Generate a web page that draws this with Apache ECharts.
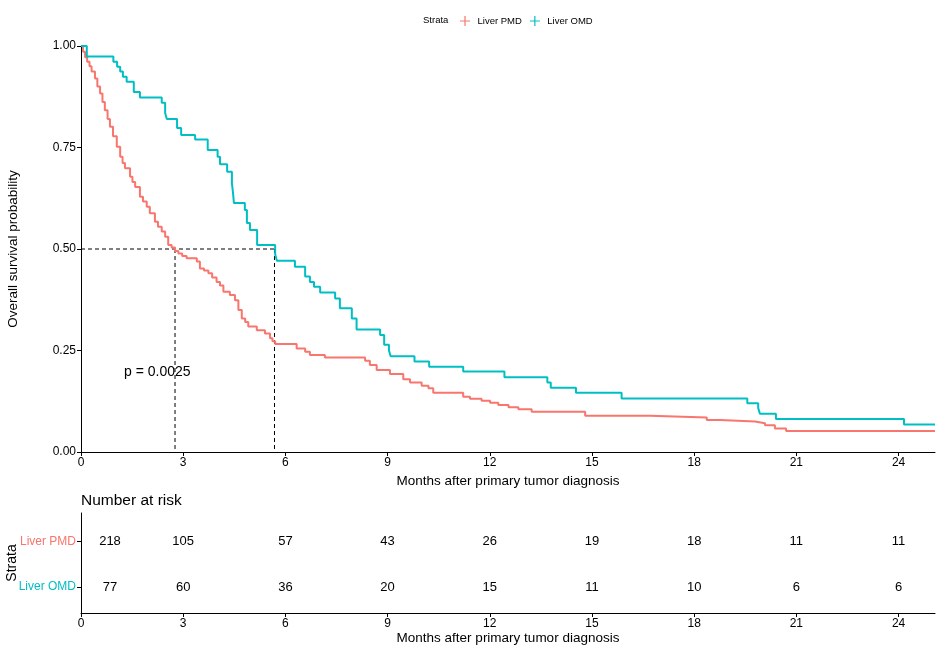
<!DOCTYPE html>
<html>
<head>
<meta charset="utf-8">
<script src="https://cdn.jsdelivr.net/npm/echarts@6/dist/echarts.min.js"></script>
<style>
  html, body { margin: 0; padding: 0; background: #fff; }
  #chart { width: 941px; height: 652px; }
</style>
</head>
<body>
<div id="chart"></div>
<script>
// =====================================================
// DATA
// =====================================================

const pmdTime = [0, 0.06, 0.12, 0.18, 0.25, 0.31, 0.41, 0.48, 0.56, 0.63, 0.70, 0.78, 0.85, 0.94,
    1.05, 1.15, 1.22, 1.29, 1.44, 1.51, 1.59, 1.73, 1.82, 1.93, 2.02, 2.17, 2.26, 2.37, 2.47,
    2.56, 2.66, 2.76, 2.86, 2.97, 3.10, 3.40, 3.49, 3.61, 3.74, 3.85, 3.98, 4.08, 4.18, 4.37,
    4.52, 4.62, 4.72, 4.82, 4.91, 5.16, 5.40, 5.55, 5.62, 5.70, 6.33, 6.58, 6.72, 7.16, 8.34,
    8.48, 8.68, 9.07, 9.46, 9.66, 10.00, 10.20, 10.34, 11.22, 11.42, 11.76, 12.01, 12.25,
    12.55, 12.84, 13.23, 14.80, 16.71, 18.37, 18.76, 19.79, 20.08, 20.37, 20.70, 25.07];
const pmdSurv = [1.0, 0.986, 0.972, 0.961, 0.950, 0.937, 0.920, 0.900, 0.883, 0.862, 0.842, 0.820,
    0.801, 0.778, 0.752, 0.727, 0.712, 0.699, 0.678, 0.665, 0.653, 0.629, 0.617, 0.604, 0.588,
    0.567, 0.555, 0.543, 0.530, 0.510, 0.504, 0.495, 0.489, 0.483, 0.477, 0.469, 0.452, 0.447,
    0.440, 0.430, 0.419, 0.410, 0.395, 0.387, 0.374, 0.350, 0.329, 0.320, 0.309, 0.300, 0.292,
    0.280, 0.273, 0.266, 0.255, 0.247, 0.239, 0.233, 0.225, 0.214, 0.202, 0.192, 0.179, 0.171,
    0.163, 0.157, 0.146, 0.136, 0.131, 0.126, 0.121, 0.116, 0.110, 0.105, 0.099, 0.089, 0.085,
    0.079, 0.075, 0.071, 0.066, 0.058, 0.052, 0.052];

const omdTime = [0, 0.17, 0.95, 1.06, 1.15, 1.23, 1.34, 1.55, 1.73, 2.37, 2.47, 2.52, 2.82, 2.94,
    3.35, 3.72, 4.01, 4.08, 4.29, 4.43, 4.46, 4.49, 4.81, 4.87, 4.96, 5.17, 5.70, 5.75, 6.28,
    6.58, 6.72, 6.84, 7.02, 7.46, 7.60, 7.95, 8.09, 8.78, 8.90, 9.04, 9.09, 9.79, 10.22, 11.22,
    12.43, 13.69, 13.79, 14.53, 15.87, 19.56, 19.88, 19.93, 20.40, 24.16, 25.07];
const omdSurv = [1.0, 0.974, 0.961, 0.949, 0.937, 0.924, 0.912, 0.887, 0.873, 0.860, 0.835, 0.820,
    0.798, 0.781, 0.770, 0.744, 0.727, 0.709, 0.690, 0.662, 0.640, 0.613, 0.596, 0.564, 0.547,
    0.510, 0.487, 0.471, 0.456, 0.432, 0.419, 0.407, 0.393, 0.378, 0.354, 0.329, 0.302, 0.288,
    0.264, 0.250, 0.236, 0.223, 0.210, 0.198, 0.184, 0.171, 0.158, 0.146, 0.132, 0.120, 0.108,
    0.094, 0.081, 0.068, 0.068];

const medianPMD = 2.76;
const medianOMD = 5.68;

const riskTimes = [0, 3, 6, 9, 12, 15, 18, 21, 24];
const pmdRisk = [218, 105, 57, 43, 26, 19, 18, 11, 11];
const omdRisk = [77, 60, 36, 20, 15, 11, 10, 6, 6];

const strata = ['Liver PMD', 'Liver OMD'];
const colors = ['#F8766D', '#00BFC4'];
const pValue = 'p = 0.0025';

// =====================================================
// HELPERS
// =====================================================

const zip = (a, b) => a.map((v, i) => [v, b[i]]);
const font = 'Liberation Sans, Arial, sans-serif';
const plusIcon = 'path://M0,4.4H10V5.6H0Z M4.4,0H5.6V10H4.4Z';

function x_axis(gridIndex) {
    return {
        type: 'value', gridIndex: gridIndex,
        min: 0, max: 25.07, interval: 3,
        name: 'Months after primary tumor diagnosis',
        nameLocation: 'middle', nameGap: 17,
        nameTextStyle: { fontFamily: font, fontSize: 13.5, color: '#000' },
        axisLine: { show: true, onZero: false, lineStyle: { color: '#000', width: 1 } },
        axisTick: { show: true, length: 4, lineStyle: { color: '#000' } },
        axisLabel: { fontFamily: font, fontSize: 12, color: '#000', margin: 5,
            showMaxLabel: false, formatter: v => v },
        splitLine: { show: false }
    };
}

const chart = echarts.init(document.getElementById('chart'));

chart.setOption({
    animation: false,
    textStyle: { fontFamily: font },
    grid: [
        { left: 81, top: 46, width: 854, height: 406, outerBoundsMode: 'none', containLabel: false },
        { left: 81, top: 513, width: 854, height: 100, outerBoundsMode: 'none', containLabel: false }
    ],
    legend: {
        left: 455, top: 11,
        itemWidth: 15, itemHeight: 10, itemGap: 8,
        icon: plusIcon,
        textStyle: { fontFamily: font, fontSize: 9.5, color: '#000' },
        data: strata
    },
    graphic: [
        { type: 'text', left: 423, top: 15,
          style: { text: 'Strata', font: '9.5px ' + font, fill: '#000' } },
        { type: 'text', left: 124, top: 365,
          style: { text: pValue, font: '14px ' + font, fill: '#000' } },
        { type: 'text', left: 81, top: 493,
          style: { text: 'Number at risk', font: '15.5px ' + font, fill: '#000' } }
    ],
    xAxis: [x_axis(0), x_axis(1)],
    yAxis: [
        {
            type: 'value', gridIndex: 0, min: 0, max: 1, interval: 0.25,
            name: 'Overall survival probability',
            nameLocation: 'middle', nameGap: 61, nameMoveOverlap: false,
            nameTextStyle: { fontFamily: font, fontSize: 13.5, color: '#000' },
            axisLine: { show: true, lineStyle: { color: '#000', width: 1 } },
            axisTick: { show: true, length: 4, lineStyle: { color: '#000' } },
            axisLabel: { fontFamily: font, fontSize: 12, color: '#000', margin: 5,
                formatter: v => v.toFixed(2) },
            splitLine: { show: false }
        },
        {
            type: 'value', gridIndex: 1, min: 0.37, max: 2.57, inverse: true,
            name: 'Strata',
            nameLocation: 'middle', nameGap: 62, nameMoveOverlap: false,
            nameTextStyle: { fontFamily: font, fontSize: 14, color: '#000' },
            axisLine: { show: true, lineStyle: { color: '#000', width: 1 } },
            axisTick: { show: true, length: 4, customValues: [1, 2], lineStyle: { color: '#000' } },
            axisLabel: {
                customValues: [1, 2], margin: 5,
                formatter: v => v === 1 ? '{p|' + strata[0] + '}' : '{o|' + strata[1] + '}',
                rich: {
                    p: { fontFamily: font, fontSize: 12, color: colors[0] },
                    o: { fontFamily: font, fontSize: 12, color: colors[1] }
                }
            },
            splitLine: { show: false }
        }
    ],
    series: [
        {
            name: strata[0], type: 'line', step: 'end', showSymbol: false,
            xAxisIndex: 0, yAxisIndex: 0,
            color: colors[0], lineStyle: { width: 2 },
            data: zip(pmdTime, pmdSurv), z: 3
        },
        {
            name: strata[1], type: 'line', step: 'end', showSymbol: false,
            xAxisIndex: 0, yAxisIndex: 0,
            color: colors[1], lineStyle: { width: 2 },
            data: zip(omdTime, omdSurv), z: 3
        },
        {
            name: 'median', type: 'line', showSymbol: false, silent: true,
            xAxisIndex: 0, yAxisIndex: 0,
            lineStyle: { color: '#000', width: 1, type: [4, 3] },
            data: [[0, 0.5], [medianOMD, 0.5], null,
                   [medianPMD, 0.5], [medianPMD, 0], null,
                   [medianOMD, 0.5], [medianOMD, 0]],
            connectNulls: false, z: 2
        },
        {
            name: 'risk', type: 'scatter', symbolSize: 0, silent: true,
            xAxisIndex: 1, yAxisIndex: 1,
            itemStyle: { color: '#000' },
            label: {
                show: true, position: 'inside', color: '#000', opacity: 1,
                fontFamily: font, fontSize: 13,
                formatter: p => p.value[2]
            },
            labelLayout: p => p.dataIndex % riskTimes.length === 0 ? { dx: 29 } : {},
            data: riskTimes.map((t, i) => [t, 1, pmdRisk[i]])
                .concat(riskTimes.map((t, i) => [t, 2, omdRisk[i]]))
        }
    ]
});
</script>
</body>
</html>
